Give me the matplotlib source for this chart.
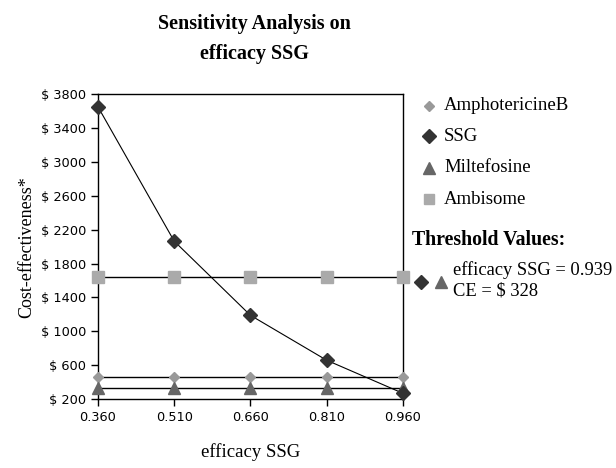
import numpy as np
import matplotlib
matplotlib.use("Agg")
import matplotlib.pyplot as plt
from matplotlib.ticker import FuncFormatter

# ---- Data
efficacy = [0.360, 0.510, 0.660, 0.810, 0.960]
ssg = [3650, 2065, 1190, 660, 270]
amphotericine = [460, 460, 460, 460, 460]
miltefosine = [328, 328, 328, 328, 328]
ambisome = [1640, 1640, 1640, 1640, 1640]
y_ticks = [200, 600, 1000, 1400, 1800, 2200, 2600, 3000, 3400, 3800]
threshold_eff = 0.939
threshold_ce = 328

serif = "Liberation Serif"

fig = plt.figure(figsize=(6.16, 4.68), dpi=100)
ax = fig.add_axes([0.159, 0.147, 0.495, 0.652])

ax.plot(efficacy, amphotericine, color="black", lw=1, zorder=2)
ax.plot(efficacy, miltefosine, color="black", lw=1, zorder=2)
ax.plot(efficacy, ambisome, color="black", lw=1, zorder=2)
ax.plot(efficacy, ssg, color="black", lw=0.8, zorder=2)

ax.plot(efficacy, amphotericine, ls="none", marker="D", ms=5.5, color="#999999",
        clip_on=False, zorder=3)
ax.plot(efficacy, miltefosine, ls="none", marker="^", ms=9, color="#666666",
        clip_on=False, zorder=3)
ax.plot(efficacy, ambisome, ls="none", marker="s", ms=8, color="#aaaaaa",
        clip_on=False, zorder=3)
ax.plot(efficacy, ssg, ls="none", marker="D", ms=7, color="#333333",
        clip_on=False, zorder=4)

ax.set_xlim(0.36, 0.96)
ax.set_ylim(200, 3800)
ax.set_xticks(efficacy)
ax.set_xticklabels([f"{v:.3f}" for v in efficacy])
ax.set_yticks(y_ticks)
ax.yaxis.set_major_formatter(FuncFormatter(lambda v, p: f"$ {int(v)}"))
ax.tick_params(direction="out", length=5, width=1, labelsize=9.3, colors="black")
for s in ax.spines.values():
    s.set_linewidth(1)

ax.set_xlabel("efficacy SSG", family=serif, fontsize=13.5, labelpad=14)
ax.set_ylabel("Cost-effectiveness*", family=serif, fontsize=13, labelpad=4)

fig.text(0.413, 0.948, "Sensitivity Analysis on", family=serif, fontsize=14.5,
         fontweight="bold", ha="center", va="center")
fig.text(0.413, 0.884, "efficacy SSG", family=serif, fontsize=14.5,
         fontweight="bold", ha="center", va="center")

# ---- Legend (drawn by hand to match the layout)
legend_items = [("AmphotericineB", "D", 5, "#999999"),
                ("SSG", "D", 7, "#333333"),
                ("Miltefosine", "^", 8, "#666666"),
                ("Ambisome", "s", 7, "#aaaaaa")]
ys = [106, 136, 168, 199]
for (name, mk, ms, col), yp in zip(legend_items, ys):
    fy = 1 - yp / 468
    fig.lines.append(plt.Line2D([429 / 616], [fy], marker=mk, ms=ms, color=col,
                                ls="none", transform=fig.transFigure))
    fig.text(444 / 616, fy, name, family=serif, fontsize=13.5, va="center")

fig.text(412 / 616, 1 - 240 / 468, "Threshold Values:", family=serif,
         fontsize=14.3, fontweight="bold", va="center")
fy = 1 - 282 / 468
fig.lines.append(plt.Line2D([421 / 616], [fy], marker="D", ms=7, color="#333333",
                            ls="none", transform=fig.transFigure))
fig.lines.append(plt.Line2D([441 / 616], [fy], marker="^", ms=9, color="#666666",
                            ls="none", transform=fig.transFigure))
fig.text(453 / 616, 1 - 270 / 468, f"efficacy SSG = {threshold_eff:.3f}",
         family=serif, fontsize=13.3, va="center")
fig.text(453 / 616, 1 - 291 / 468, f"CE = $ {threshold_ce}",
         family=serif, fontsize=13.3, va="center")

fig.savefig("out.png", dpi=100)
